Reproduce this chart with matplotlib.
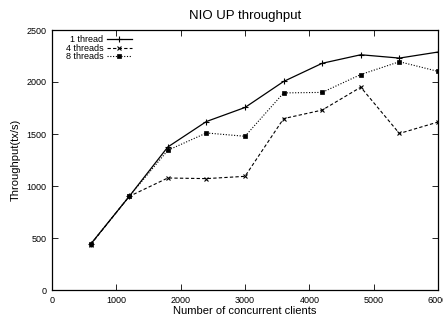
import matplotlib
matplotlib.use("Agg")
import matplotlib.pyplot as plt

plt.rcParams['font.family'] = ['Liberation Sans', 'DejaVu Sans']

clients = [600, 1200, 1800, 2400, 3000, 3600, 4200, 4800, 5400, 6000]
one_thread = [440, 900, 1375, 1620, 1755, 2005, 2180, 2262, 2230, 2288]
four_threads = [436, 900, 1077, 1071, 1093, 1648, 1730, 1950, 1505, 1615]
eight_threads = [440, 900, 1343, 1510, 1478, 1895, 1900, 2072, 2195, 2102]

fig = plt.figure(figsize=(4.43, 3.2), dpi=100)
ax = fig.add_axes([52/443, 30/320, (438-52)/443, 260/320])

ax.plot(clients, one_thread, color='black', lw=0.9, ls='-', marker='+', ms=5, mew=0.8, label='1 thread')
ax.plot(clients, four_threads, color='black', lw=0.8, ls=(0, (3, 2)), marker='x', ms=3.5, mew=0.8, label='4 threads')
ax.plot(clients, eight_threads, color='black', lw=0.8, ls=(0, (1, 1.5)), marker='s', ms=2.8, mew=0.5, label='8 threads')

ax.set_xlim(0, 6000)
ax.set_ylim(0, 2500)
ax.set_xticks(range(0, 6001, 1000))
ax.set_yticks(range(0, 2501, 500))
ax.tick_params(direction='in', top=True, right=True, labelsize=6.5, length=4, width=0.6, pad=4)
for s in ax.spines.values():
    s.set_linewidth(0.9)

ax.set_title('NIO UP throughput', fontsize=9.5, pad=8)
ax.set_xlabel('Number of concurrent clients', fontsize=8, labelpad=1)
ax.set_ylabel('Throughput(tx/s)', fontsize=8, labelpad=4)

leg = ax.legend(loc='upper left', bbox_to_anchor=(0.035, 0.98), frameon=False,
                markerfirst=False, fontsize=6.5, handlelength=2.8, handletextpad=0.4,
                labelspacing=-0.05, borderaxespad=0, borderpad=0)

fig.savefig('out.png', dpi=100)
